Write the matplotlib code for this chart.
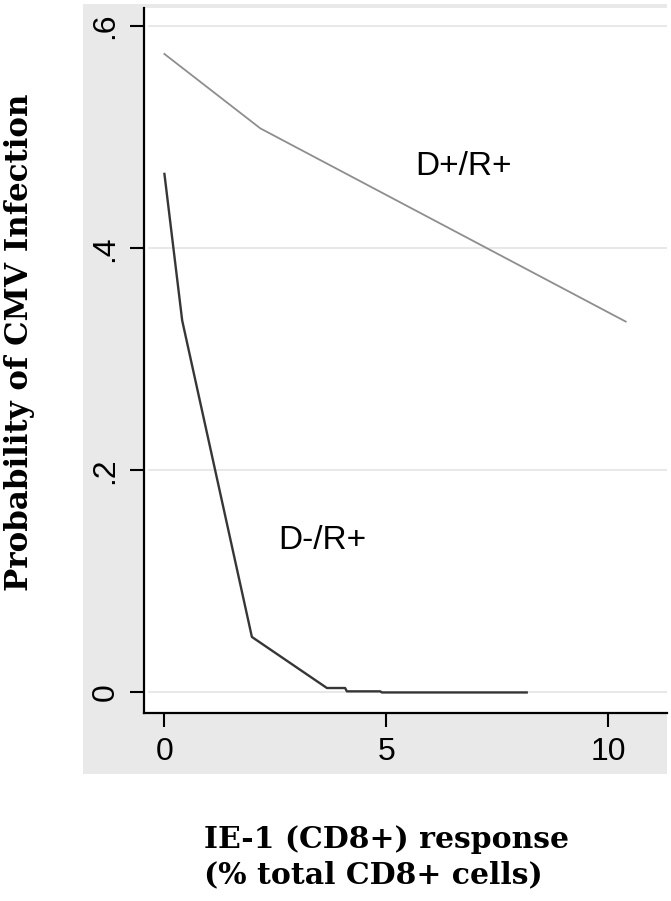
import matplotlib
matplotlib.use("Agg")
import matplotlib.pyplot as plt
from matplotlib.patches import Rectangle

# Data
dpos_x = [0.0, 2.16, 10.39]
dpos_y = [0.575, 0.508, 0.334]
dneg_x = [0.0, 0.40, 1.97, 3.66, 4.07, 4.11, 4.86, 4.90, 8.16]
dneg_y = [0.467, 0.335, 0.050, 0.004, 0.004, 0.001, 0.001, 0.0, 0.0]
xticks = [0, 5, 10]
xticklabels = ["0", "5", "10"]
yticks = [0, 0.2, 0.4, 0.6]
yticklabels = ["0", ".2", ".4", ".6"]

W, H = 671, 901
fig = plt.figure(figsize=(W / 100, H / 100), dpi=100)
fig.patch.set_facecolor("white")

# gray outer (plot region) background
fig.patches.append(Rectangle((83 / W, 1 - 774 / H), (667 - 83) / W, (774 - 4) / H,
                             transform=fig.transFigure, facecolor="#e9e9e9",
                             edgecolor="none", zorder=0))

ax = fig.add_axes([144 / W, 1 - 713 / H, (667 - 144) / W, (713 - 8) / H])
ax.set_facecolor("white")
ax.set_zorder(1)

ax.set_xlim(-0.46, 11.32)
ax.set_ylim(-0.0185, 0.6164)

for yv in yticks:
    ax.axhline(yv, xmin=0.01, color="#e6e6e6", lw=1.3, zorder=1)

ax.plot(dpos_x, dpos_y, color="#8e8e8e", lw=1.3, zorder=3)
ax.plot(dneg_x, dneg_y, color="#363636", lw=1.7, zorder=3)

tickfont = ["Liberation Sans Narrow", "Liberation Sans", "DejaVu Sans"]
ax.set_xticks(xticks)
ax.set_xticklabels(xticklabels, family=tickfont, fontsize=23)
ax.set_yticks(yticks)
ax.set_yticklabels(yticklabels, family=tickfont, fontsize=23, rotation=90, va="center")
ax.tick_params(axis="both", direction="out", length=10, width=1.5, color="black", pad=7)

for s in ["top", "right"]:
    ax.spines[s].set_visible(False)
for s in ["left", "bottom"]:
    ax.spines[s].set_linewidth(1.6)
    ax.spines[s].set_color("black")

ax.text(6.73, 0.474, "D+/R+", family=["Liberation Sans", "DejaVu Sans"], fontsize=24,
        ha="center", va="center", color="black", zorder=4)
ax.text(3.55, 0.137, "D-/R+", family=["Liberation Sans", "DejaVu Sans"], fontsize=24,
        ha="center", va="center", color="black", zorder=4)

fig.text(204 / W, 1 - 857 / H, "IE-1 (CD8+) response\n(% total CD8+ cells)",
         family=["DejaVu Serif"], fontweight="bold", fontsize=21.5,
         ha="left", va="center", multialignment="left", linespacing=1.3)
fig.text(20 / W, 1 - 342 / H, "Probability of CMV Infection",
         family=["DejaVu Serif"], fontweight="bold", fontsize=22.2,
         rotation=90, ha="center", va="center")

fig.savefig("out.png", dpi=100, facecolor="white")
